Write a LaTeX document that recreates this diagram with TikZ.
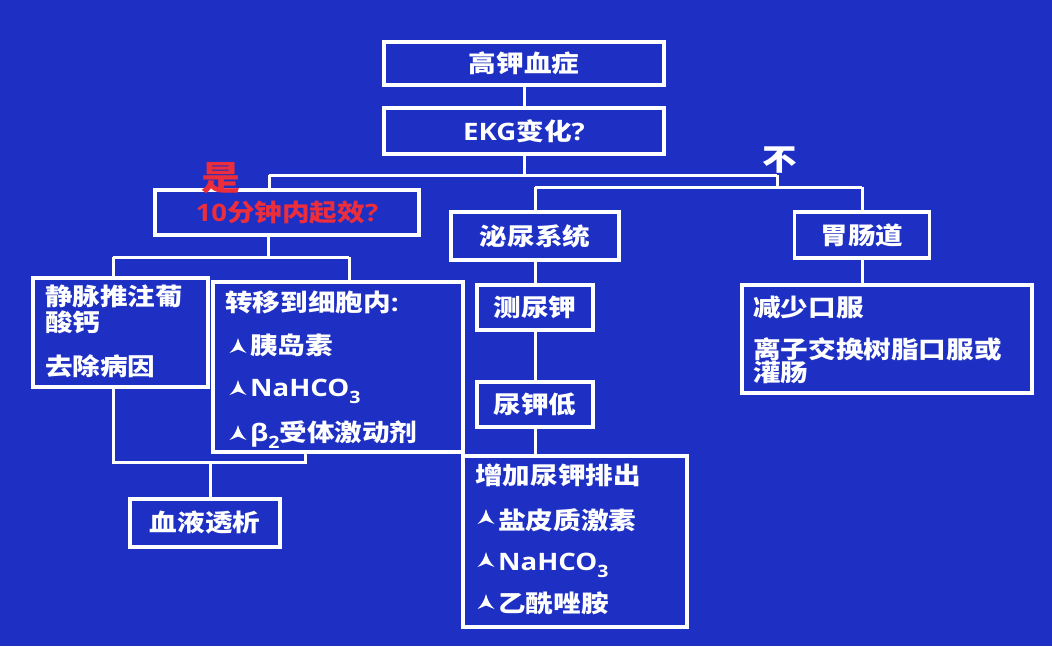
\documentclass[tikz,border=0pt]{standalone}
\usepackage{fontspec}
\newfontfamily\cjk{Noto Sans CJK SC}[FakeStretch=1.15]
\newfontfamily\lat{Open Sans}[FakeStretch=1.15]
\definecolor{bg}{RGB}{30,48,195}
\definecolor{redt}{RGB}{235,45,60}
\newcommand\lowsub[1]{\raisebox{-0.32em}{\fontsize{17}{17}\selectfont #1}}
\begin{document}
\begin{tikzpicture}[x=1pt,y=-1pt,
  box/.style={draw=white, line width=3.5pt, inner sep=0pt, text=white,
    font=\cjk\bfseries\fontsize{24}{28}\selectfont},
  conn/.style={draw=white, line width=3pt},
  txt/.style={text=white, inner sep=0pt, anchor=base west,
    font=\cjk\bfseries\fontsize{24}{28}\selectfont},
  pics/bltp/.style={code={\fill[white] (0,-8) .. controls (1.5,-2) and (4,3) .. (8.5,7)
      -- (0,3.5) -- (-8.5,7) .. controls (-4,3) and (-1.5,-2) .. (0,-8) -- cycle;}}
]
\fill[bg] (0,0) rectangle (1052,646);
\useasboundingbox (0,0) rectangle (1052,646);

% boxes
\node[box, minimum width=280pt, minimum height=43pt] (n1) at (524,63.5) {高钾血症};
\node[box, minimum width=280pt, minimum height=46pt] (n2) at (524,131) {{\lat EKG}变化{\lat ?}};
\node[box, minimum width=264pt, minimum height=45pt, text=redt] (q) at (287,212.5) {{\lat 10}分钟内起效{\lat ?}\hspace{14pt}};
\node[box, minimum width=168pt, minimum height=48pt] (u) at (535,236) {泌尿系统};
\node[box, minimum width=135pt, minimum height=46pt] (g) at (862,235) {胃肠道};
\node[box, minimum width=290pt, minimum height=108pt] (ro) at (887,339) {};
\node[box, minimum width=116pt, minimum height=45pt] (c1) at (535,307.5) {测尿钾};
\node[box, minimum width=116pt, minimum height=45pt] (c2) at (535,404.5) {尿钾低};
\node[box, minimum width=224pt, minimum height=171pt] (inc) at (575,541.5) {};
\node[box, minimum width=175pt, minimum height=109pt] (iv) at (120.5,332.5) {};
\node[box, minimum width=250pt, minimum height=170pt] (tr) at (338,367) {};
\node[box, minimum width=150pt, minimum height=48pt] (hd) at (205,523) {血液透析};

% connectors
\coordinate (j1) at (524,175);
\coordinate (jl) at (269,175);
\coordinate (jr) at (777,175);
\coordinate (j2) at (777,187);
\coordinate (j2l) at (535,187);
\coordinate (j2r) at (862,187);
\draw[conn] (n1.south) -- (n2.north);
\draw[conn] (n2.south) -- (j1);
\draw[conn] (jl) -- (jr);
\draw[conn] (jl) -- (jl |- q.north);
\draw[conn] (jr) -- (j2);
\draw[conn] (j2l) -- (j2r);
\draw[conn] (j2l) -- (u.north);
\draw[conn] (j2r) -- (g.north);
\draw[conn] (g.south) -- (g.south |- ro.north);
\draw[conn] (u.south) -- (c1.north);
\draw[conn] (c1.south) -- (c2.north);
\draw[conn] (c2.south) -- (c2.south |- inc.north);

\coordinate (j3) at (268,257);
\coordinate (j3l) at (113,257);
\coordinate (j3r) at (349,257);
\draw[conn] (j3 |- q.south) -- (j3);
\draw[conn] (j3l) -- (j3r);
\draw[conn] (j3l) -- (j3l |- iv.north);
\draw[conn] (j3r) -- (j3r |- tr.north);
\coordinate (j4l) at (113,462);
\coordinate (j4r) at (305,462);
\coordinate (j4m) at (210,462);
\draw[conn] (j4l |- iv.south) -- (j4l) -- (j4r) -- (j4r |- tr.south);
\draw[conn] (j4m) -- (j4m |- hd.north);

% texts in iv box
\node[txt] (iv1) at (45,305) {静脉推注葡};
\node[txt] (iv2) at (45,331) {酸钙};
\node[txt] (iv3) at (45,375) {去除病因};

% texts in tr box
\node[txt] (tr0) at (225,311) {转移到细胞内{\lat :}};
\pic at (238,346) {bltp};
\node[txt] (tr1) at (250,354) {胰岛素};
\pic at (238,388) {bltp};
\node[txt] (tr2) at (250,396) {{\lat NaHCO\lowsub{3}}};
\pic at (238,433) {bltp};
\node[txt] (tr3) at (250,441) {{\lat β\lowsub{2}}受体激动剂};

% texts in inc box
\node[txt] (in0) at (475,484) {增加尿钾排出};
\pic at (486,517) {bltp};
\node[txt] (in1) at (498,529) {盐皮质激素};
\pic at (486,560) {bltp};
\node[txt] (in2) at (498,570) {{\lat NaHCO\lowsub{3}}};
\pic at (486,602) {bltp};
\node[txt] (in3) at (498,612) {乙酰唑胺};

% texts in ro box
\node[txt] (ro1) at (753,316) {减少口服};
\node[txt] (ro2) at (753,358) {离子交换树脂口服或};
\node[txt] (ro3) at (753,381) {灌肠};

% labels
\node[inner sep=0pt, text=redt, font=\cjk\bfseries\fontsize{34}{36}\selectfont] (yes) at (221,178) {是};
\node[inner sep=0pt, text=white, font=\cjk\bfseries\fontsize{30}{32}\selectfont] (no) at (780,160) {不};
\end{tikzpicture}
\end{document}
